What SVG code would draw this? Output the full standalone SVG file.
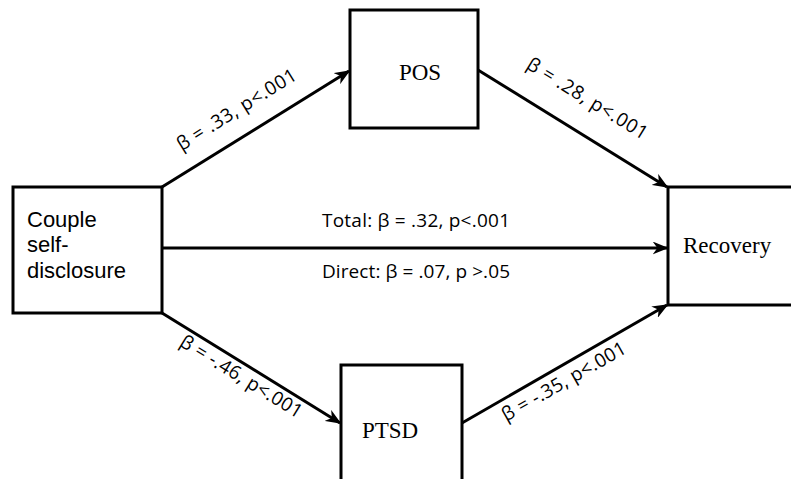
<svg xmlns="http://www.w3.org/2000/svg" width="791" height="479" viewBox="0 0 791 479">
<defs>
<style>
.box{fill:#fff;stroke:#000;stroke-width:3}
.ln{stroke:#000;stroke-width:3;fill:none;marker-end:url(#ah)}
.sans{font-family:"Open Sans","Liberation Sans",sans-serif;font-size:19px;fill:#000}
.serif{font-family:"Liberation Serif",serif;font-size:23px;fill:#000}
.lbl{font-family:"Liberation Sans",Arial,sans-serif;font-size:22px;fill:#000}
</style>
<marker id="ah" viewBox="0 0 10 10" refX="9" refY="5" markerWidth="16" markerHeight="13" orient="auto" markerUnits="userSpaceOnUse" preserveAspectRatio="none">
<path d="M0,0 L10,5 L0,10 L3,5 Z" fill="#000"/>
</marker>
</defs>
<rect width="791" height="479" fill="#fff"/>
<g id="connectors">
<path d="M162,187 L349,71" class="ln"/>
<path d="M478,70 L667,187" class="ln"/>
<path d="M162,248 L667,248" class="ln"/>
<path d="M162,313 L340,423" class="ln"/>
<path d="M462,423 L667,305" class="ln"/>
<text class="sans" transform="translate(240,115) rotate(-31.9)" text-anchor="middle" textLength="137">β = .33, p&lt;.001</text>
<text class="sans" transform="translate(584,104) rotate(31.6)" text-anchor="middle" textLength="138">β = .28, p&lt;.001</text>
<text class="sans" transform="translate(238,382) rotate(31.6)" text-anchor="middle" textLength="140">β = -.46, p&lt;.001</text>
<text class="sans" transform="translate(567,387) rotate(-29.8)" text-anchor="middle" textLength="140">β = -.35, p&lt;.001</text>
<text class="sans" x="322" y="227" textLength="188">Total: β = .32, p&lt;.001</text>
<text class="sans" x="322" y="278" textLength="188">Direct: β = .07, p &gt;.05</text>
</g>
<g id="node-couple">
<rect class="box" x="13" y="187" width="149" height="126"/>
<text class="lbl" x="27" y="227">Couple</text>
<text class="lbl" x="27" y="252">self-</text>
<text class="lbl" x="27" y="278">disclosure</text>
</g>
<g id="node-pos">
<rect class="box" x="350" y="10" width="128" height="118"/>
<text class="serif" x="420" y="80" text-anchor="middle">POS</text>
</g>
<g id="node-recovery">
<rect class="box" x="668" y="187" width="130" height="118"/>
<text class="serif" x="683" y="253">Recovery</text>
</g>
<g id="node-ptsd">
<rect class="box" x="341" y="365" width="121" height="120"/>
<text class="serif" x="390" y="438" text-anchor="middle">PTSD</text>
</g>
</svg>
